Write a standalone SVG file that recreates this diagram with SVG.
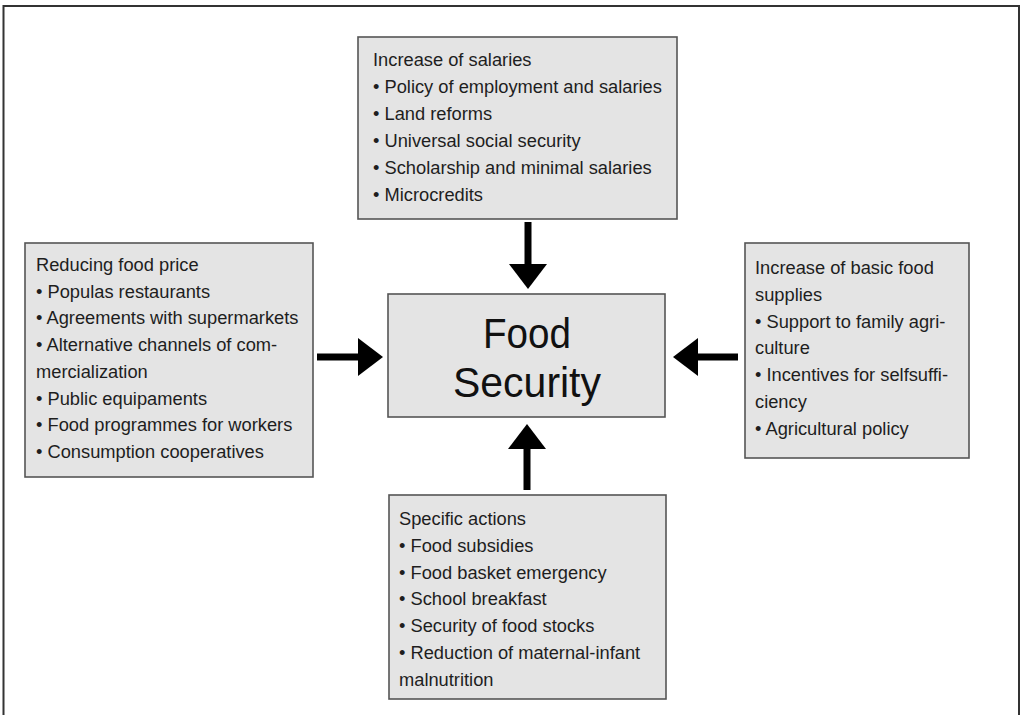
<svg xmlns="http://www.w3.org/2000/svg" width="1026" height="715" viewBox="0 0 1026 715">
<style>
.box{fill:#e4e4e4;stroke:#555;stroke-width:1.6}
.t{font-family:"Liberation Sans",Arial,sans-serif;font-size:18.3px;fill:#1e1e1e}
.big{font-family:"Liberation Sans",Arial,sans-serif;font-size:43px;fill:#111;text-anchor:middle}
.arr{stroke:#000;stroke-width:7;fill:none}
</style>
<defs>
<marker id="ah" markerUnits="userSpaceOnUse" markerWidth="25" markerHeight="38" refX="1" refY="19" orient="auto">
<path d="M0,0 L25,19 L0,38 Z" fill="#000"/>
</marker>
</defs>
<rect x="0" y="0" width="1026" height="715" fill="#fff"/>
<rect id="frame" x="3.5" y="6" width="1015.5" height="720" fill="none" stroke="#333" stroke-width="2"/>

<g id="top">
<rect class="box" x="358" y="37" width="319" height="182"/>
<text class="t" x="373" y="66">Increase of salaries</text>
<text class="t" x="373" y="93">• Policy of employment and salaries</text>
<text class="t" x="373" y="120">• Land reforms</text>
<text class="t" x="373" y="147">• Universal social security</text>
<text class="t" x="373" y="174">• Scholarship and minimal salaries</text>
<text class="t" x="373" y="201">• Microcredits</text>
</g>

<g id="left">
<rect class="box" x="25" y="243" width="288" height="234"/>
<text class="t" x="36" y="271">Reducing food price</text>
<text class="t" x="36" y="297.7">• Populas restaurants</text>
<text class="t" x="36" y="324.4">• Agreements with supermarkets</text>
<text class="t" x="36" y="351.1">• Alternative channels of com-</text>
<text class="t" x="36" y="377.8">mercialization</text>
<text class="t" x="36" y="404.5">• Public equipaments</text>
<text class="t" x="36" y="431.2">• Food programmes for workers</text>
<text class="t" x="36" y="458">• Consumption cooperatives</text>
</g>

<g id="right">
<rect class="box" x="745" y="243" width="224" height="215"/>
<text class="t" x="755" y="274">Increase of basic food</text>
<text class="t" x="755" y="300.8">supplies</text>
<text class="t" x="755" y="327.6">• Support to family agri-</text>
<text class="t" x="755" y="354.4">culture</text>
<text class="t" x="755" y="381.2">• Incentives for selfsuffi-</text>
<text class="t" x="755" y="408">ciency</text>
<text class="t" x="755" y="435">• Agricultural policy</text>
</g>

<g id="bottom">
<rect class="box" x="389" y="495" width="277" height="204"/>
<text class="t" x="399" y="525">Specific actions</text>
<text class="t" x="399" y="551.8">• Food subsidies</text>
<text class="t" x="399" y="578.6">• Food basket emergency</text>
<text class="t" x="399" y="605.4">• School breakfast</text>
<text class="t" x="399" y="632.2">• Security of food stocks</text>
<text class="t" x="399" y="659">• Reduction of maternal-infant</text>
<text class="t" x="399" y="686">malnutrition</text>
</g>

<g id="center">
<rect class="box" x="388" y="294" width="277" height="123"/>
<text class="big" x="527" y="348" textLength="88" lengthAdjust="spacingAndGlyphs">Food</text>
<text class="big" x="527" y="396.5" textLength="148" lengthAdjust="spacingAndGlyphs">Security</text>
</g>

<g id="connectors">
<line class="arr" x1="528" y1="222" x2="528" y2="265" marker-end="url(#ah)"/>
<line class="arr" x1="527" y1="490" x2="527" y2="448" marker-end="url(#ah)"/>
<line class="arr" x1="317" y1="357" x2="359" y2="357" marker-end="url(#ah)"/>
<line class="arr" x1="738" y1="357" x2="697" y2="357" marker-end="url(#ah)"/>
</g>
</svg>
